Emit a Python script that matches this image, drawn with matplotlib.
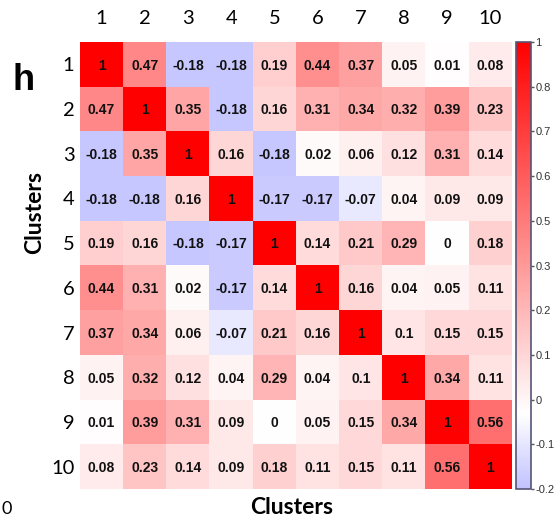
import numpy as np
import matplotlib
matplotlib.use('Agg')
import matplotlib.pyplot as plt
from matplotlib.colors import LinearSegmentedColormap

clusters = ['1', '2', '3', '4', '5', '6', '7', '8', '9', '10']
corr = [
    [1, 0.47, -0.18, -0.18, 0.19, 0.44, 0.37, 0.05, 0.01, 0.08],
    [0.47, 1, 0.35, -0.18, 0.16, 0.31, 0.34, 0.32, 0.39, 0.23],
    [-0.18, 0.35, 1, 0.16, -0.18, 0.02, 0.06, 0.12, 0.31, 0.14],
    [-0.18, -0.18, 0.16, 1, -0.17, -0.17, -0.07, 0.04, 0.09, 0.09],
    [0.19, 0.16, -0.18, -0.17, 1, 0.14, 0.21, 0.29, 0, 0.18],
    [0.44, 0.31, 0.02, -0.17, 0.14, 1, 0.16, 0.04, 0.05, 0.11],
    [0.37, 0.34, 0.06, -0.07, 0.21, 0.16, 1, 0.1, 0.15, 0.15],
    [0.05, 0.32, 0.12, 0.04, 0.29, 0.04, 0.1, 1, 0.34, 0.11],
    [0.01, 0.39, 0.31, 0.09, 0, 0.05, 0.15, 0.34, 1, 0.56],
    [0.08, 0.23, 0.14, 0.09, 0.18, 0.11, 0.15, 0.11, 0.56, 1],
]
# colorbar ticks as shown (evenly spaced along the bar)
cbar_ticks = [1, 0.88, 0.76, 0.64, 0.52, 0.4, 0.28, 0.16, 0.04, -0.08, -0.2]
cbar_labels = ['1', '0.8', '0.7', '0.6', '0.5', '0.3', '0.2', '0.1', '0', '-0.1', '-0.2']

vmin, vmax = -0.2, 1.0
zero = (0 - vmin) / (vmax - vmin)
cmap = LinearSegmentedColormap.from_list(
    'bwr_part', [(0, (0.76, 0.76, 1.0)), (zero, (1, 1, 1)), (1, (1, 0, 0))])

data = np.array(corr)
W, H = 556, 518
fig = plt.figure(figsize=(W / 100, H / 100), dpi=100)
ax = fig.add_axes([80 / W, 1 - 489 / H, 432 / W, 447 / H])
cax = fig.add_axes([516 / W, 1 - 489 / H, 15 / W, 447 / H])

im = ax.imshow(data, cmap=cmap, vmin=vmin, vmax=vmax, aspect='auto',
               interpolation='nearest')
for i in range(len(clusters)):
    for j in range(len(clusters)):
        ax.text(j, i + 0.03, f"{data[i, j]:g}", ha='center', va='center',
                fontsize=10, fontweight='bold', color='#111111',
                family='Liberation Sans')

ax.xaxis.tick_top()
ax.set_xticks(range(len(clusters)))
ax.set_yticks(range(len(clusters)))
ax.set_xticklabels(clusters, family='Lato', fontsize=14.5)
ax.set_yticklabels(clusters, family='Lato', fontsize=14.5)
ax.tick_params(axis='x', length=0, pad=11)
ax.tick_params(axis='y', length=0, pad=4)
for s in ax.spines.values():
    s.set_visible(False)

cb = fig.colorbar(im, cax=cax)
cb.set_ticks(cbar_ticks)
cb.set_ticklabels(cbar_labels)
cb.outline.set_edgecolor('#555577')
cb.outline.set_linewidth(1.2)
cax.tick_params(length=2.5, width=1, color='#555555', pad=0.8, labelsize=8,
                labelcolor='#333333')
for lab in cax.get_yticklabels():
    lab.set_family('Liberation Sans')

fig.text(35 / W, 1 - 212 / H, 'Clusters', rotation=90, ha='center', va='center',
         fontsize=16.5, fontweight='bold', family='Lato')
fig.text(292 / W, 1 - 507 / H, 'Clusters', ha='center', va='center',
         fontsize=16.5, fontweight='bold', family='Lato')
fig.text(24 / W, 1 - 80 / H, 'h', ha='center', va='center',
         fontsize=26, fontweight='bold', family='Liberation Sans')
fig.text(1 / W, 1 - 509 / H, '0', ha='left', va='center',
         fontsize=13, family='Lato')

fig.savefig('out.png', dpi=100)
